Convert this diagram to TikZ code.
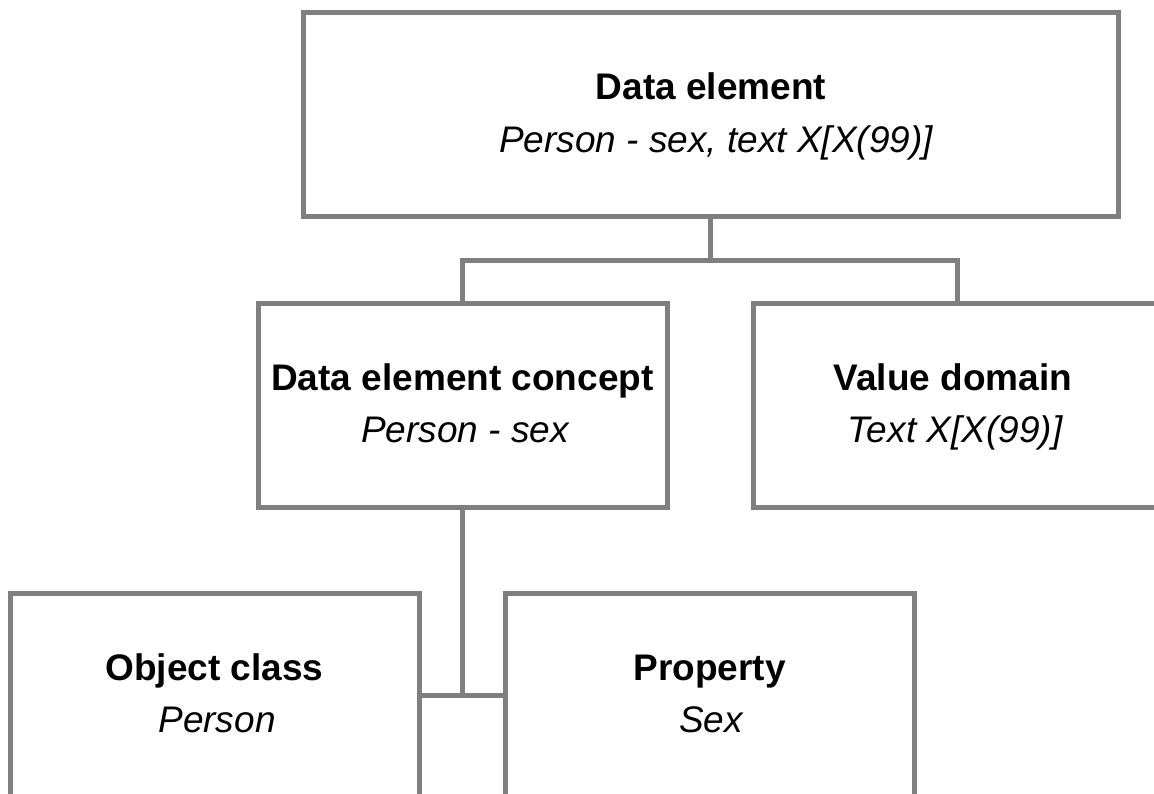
\documentclass[tikz,border=0pt]{standalone}
\usepackage{fontspec}
\setmainfont{Liberation Sans}
\begin{document}
\begin{tikzpicture}[x=1pt,y=-1pt,
  box/.style={draw=boxgray, line width=5pt, fill=white, rectangle, inner sep=0pt, minimum width=409pt, minimum height=204pt},
  conn/.style={draw=boxgray, line width=5pt},
  ttl/.style={anchor=base, inner sep=0pt, font=\fontsize{37}{44}\selectfont\bfseries},
  sub/.style={anchor=base, inner sep=0pt, font=\fontsize{37}{44}\selectfont\itshape}]
\definecolor{boxgray}{HTML}{7F7F7F}
\clip (0,0) rectangle (1154,793);
\fill[white] (0,0) rectangle (1154,793);
\coordinate (j1) at (710.5,260);
\coordinate (j2) at (462.5,695);
% boxes
\node[box, minimum width=815pt] (de) at (710.5,114.5) {};
\node[box] (dec) at (462.5,405) {};
\node[box] (vd) at (957.5,405) {};
\node[box] (oc) at (214.5,695) {};
\node[box] (pr) at (709.5,695) {};
% connectors
\draw[conn] (de.south) -- (j1);
\draw[conn] (dec.north) |- (j1) -| (vd.north);
\draw[conn] (dec.south) -- (j2);
\draw[conn] (oc.east |- j2) -- (pr.west |- j2);
% texts
\node[ttl] (det) at (711,99) {Data element};
\node[sub] (des) at (716,152) {Person - sex, text X[X(99)]};
\node[ttl] (dect) at (462.5,390) {Data element concept};
\node[sub] (decs) at (465,442) {Person - sex};
\node[ttl] (vdt) at (953,390) {Value domain};
\node[sub] (vds) at (955,442) {Text X[X(99)]};
\node[ttl] (oct) at (214.5,680) {Object class};
\node[sub] (ocs) at (217,732) {Person};
\node[ttl] (prt) at (709.5,680) {Property};
\node[sub] (prs) at (711,732) {Sex};
\end{tikzpicture}
\end{document}
